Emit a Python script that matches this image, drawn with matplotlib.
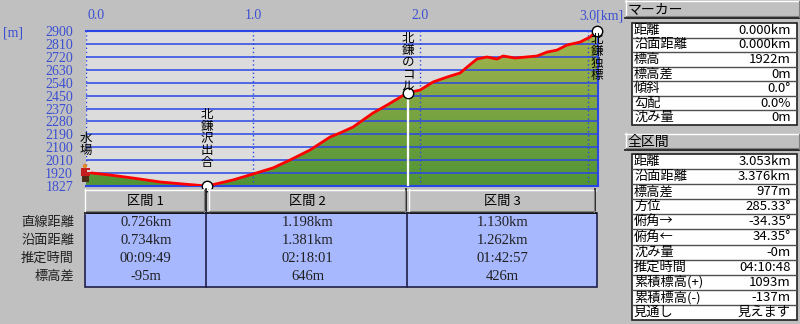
import numpy as np
import matplotlib
matplotlib.use('Agg')
import matplotlib.pyplot as plt
from matplotlib.patches import Rectangle, Circle
from matplotlib.transforms import offset_copy

# elevation profile: horizontal distance [km], elevation [m]
dist_km = [0.000, 0.146, 0.284, 0.445, 0.582, 0.726, 0.881, 1.000, 1.119, 1.221,
           1.340, 1.460, 1.519, 1.597, 1.716, 1.800, 1.924, 1.997, 2.075, 2.158,
           2.236, 2.278, 2.337, 2.397, 2.457, 2.493, 2.564, 2.696, 2.755, 2.815,
           2.875, 2.952, 3.012, 3.053]
elev_m = [1922, 1903, 1882, 1855, 1841, 1827, 1869, 1910, 1952, 2007,
          2076, 2166, 2194, 2235, 2332, 2387, 2473, 2491, 2547, 2581,
          2609, 2650, 2706, 2720, 2706, 2727, 2713, 2727, 2754, 2768,
          2803, 2823, 2858, 2899]

way_km = [0.0, 0.726, 1.924, 3.053]
way_elev = [1922, 1827, 2473, 2899]
way_names = ['水場', '北鎌沢出合', '北鎌のコル', '北鎌独標']

y_tick_labels = ['1827', '1920', '2010', '2100', '2190', '2280', '2370',
                 '2450', '2540', '2630', '2720', '2810', '2900']
x_tick_km = [0, 1, 2, 3]
x_tick_labels = ['0.0', '1.0', '2.0', '3.0[km]']

seg_names = ['区間 1', '区間 2', '区間 3']
row_labels = ['直線距離', '沿面距離', '推定時間', '標高差']
seg_horiz = ['0.726km', '1.198km', '1.130km']
seg_surface = ['0.734km', '1.381km', '1.262km']
seg_time = ['00:09:49', '02:18:01', '01:42:57']
seg_diff = ['-95m', '646m', '426m']

marker_labels = ['距離', '沿面距離', '標高', '標高差', '傾斜', '勾配', '沈み量']
marker_values = ['0.000km', '0.000km', '1922m', '0m', '0.0°', '0.0%', '0m']
total_labels = ['距離', '沿面距離', '標高差', '方位', '俯角→', '俯角←', '沈み量',
                '推定時間', '累積標高(+)', '累積標高(-)', '見通し']
total_values = ['3.053km', '3.376km', '977m', '285.33°', '-34.35°', '34.35°', '-0m',
                '04:10:48', '1093m', '-137m', '見えます']

# ---- layout (pixels of an 800x324 picture) ----
W, H = 800, 324
X0, X1, YT, YB = 85.5, 598, 31, 186
KM_PX = 167.5
BLUE_TXT = '#3b4fd2'
BLUE_GRID = '#2a46e6'
JP = ['Noto Sans CJK JP', 'DejaVu Sans']
SERIF = ['Liberation Serif', 'Noto Sans CJK JP']

fig = plt.figure(figsize=(W / 100, H / 100), dpi=100, facecolor='#c0c0c0')
ax = fig.add_axes([X0 / W, (H - YB) / H, (X1 - X0) / W, (YB - YT) / H])
xmax = (X1 - X0) / KM_PX
ymin, ymax = 1827, 2900
ax.set_xlim(0, xmax)
ax.set_ylim(ymin, ymax)
ax.set_facecolor('#dcdcdc')

# terrain: vertical green gradient clipped to the profile
poly = ax.fill_between(dist_km + [xmax], elev_m + [elev_m[-1]], ymin,
                       facecolor='none', linewidth=0)
grad = np.linspace(0, 1, 256)[:, None]
c_lo = np.array([0x50, 0x94, 0x36]) / 255
c_hi = np.array([0xa8, 0xb6, 0x4e]) / 255
img = c_lo[None, None, :] * (1 - grad[..., None]) + c_hi[None, None, :] * grad[..., None]
im = ax.imshow(img, extent=[0, xmax, ymin, ymax], origin='lower', aspect='auto',
               zorder=1)
im.set_clip_path(poly.get_paths()[0], ax.transData)

# grid
y_pos = np.linspace(ymin, ymax, len(y_tick_labels))
for yv in y_pos:
    ax.axhline(yv, color=BLUE_GRID, lw=1.1, zorder=2)
for xv in x_tick_km:
    ax.axvline(xv, color=BLUE_GRID, lw=1.0, ls=(0, (1, 2)), zorder=2)

for s in ['top', 'bottom', 'right']:
    ax.spines[s].set_color(BLUE_GRID)
    ax.spines[s].set_linewidth(1.5)
ax.spines['left'].set_visible(False)

ax.set_yticks(y_pos, y_tick_labels)
ax.tick_params(axis='y', length=0, pad=9, labelcolor=BLUE_TXT, labelsize=10)
for t in ax.get_yticklabels():
    t.set_family(SERIF)
ax.set_xticks([])

# km labels on top
for km, lbl in zip(x_tick_km, x_tick_labels):
    if km == 0:
        dx, ha = 2.5, 'left'
    elif lbl.endswith('[km]'):
        dx, ha = -8.5, 'left'
    else:
        dx, ha = 0, 'center'
    tr = offset_copy(ax.get_xaxis_transform(), fig=fig, x=dx, y=9, units='dots')
    ax.text(km, 1.0, lbl, transform=tr, ha=ha, va='bottom', color=BLUE_TXT,
            fontsize=10, family=SERIF)

# white drop line at the col, profile, waypoints
ax.plot([way_km[2], way_km[2]], [ymin, way_elev[2]], color='white', lw=1.6, zorder=3)
ax.plot(dist_km, elev_m, color='#ff0000', lw=2.0, zorder=4, solid_capstyle='butt')
ax.plot(way_km[1:], way_elev[1:], 'o', ms=7.5, mfc='white', mec='black', mew=1.0,
        zorder=5, clip_on=False)

# vertical place names: top of the column relative to the marker, in px (up = +)
name_top = [40, 78, 61, -2]
for km, ev, name, top in zip(way_km, way_elev, way_names, name_top):
    tr = offset_copy(ax.transData, fig=fig, x=0, y=top, units='dots')
    ax.text(km, ev, '\n'.join(name), transform=tr, ha='center', va='top',
            multialignment='center', linespacing=0.9, fontsize=9, family=JP,
            color='black', zorder=6, clip_on=False)

# ---- overlay in pixel coordinates ----
ov = fig.add_axes([0, 0, 1, 1])
ov.set_xlim(0, W)
ov.set_ylim(H, 0)
ov.axis('off')
ov.patch.set_alpha(0)
ov.set_zorder(3)

ov.text(3, 33, '[m]', color=BLUE_TXT, fontsize=10, family=SERIF, ha='left', va='center')

# hiker icon at the start
ov.add_patch(Rectangle((82, 175), 7, 7, color='#4a2c18', lw=0))
ov.add_patch(Rectangle((81, 168), 9, 7.5, color='#c41e1e', lw=0))
ov.add_patch(Circle((85, 166), 2.2, color='#e2862e', lw=0))
ov.add_patch(Rectangle((87, 170), 4, 2, color='#d8d8d8', lw=0))


def button(x0, y0, x1, y1):
    ov.add_patch(Rectangle((x0, y0), x1 - x0, y1 - y0, facecolor='#c0c0c0', lw=0))
    ov.plot([x0, x1], [y0 + 0.5, y0 + 0.5], color='white', lw=1)
    ov.plot([x0 + 0.5, x0 + 0.5], [y0, y1], color='white', lw=1)
    ov.plot([x0, x1], [y1 - 0.5, y1 - 0.5], color='#101010', lw=1.2)
    ov.plot([x1 - 0.5, x1 - 0.5], [y0, y1], color='#101010', lw=1.2)
    ov.plot([x0 + 1, x1 - 1], [y1 - 1.8, y1 - 1.8], color='#808080', lw=0.8)
    ov.plot([x1 - 1.8, x1 - 1.8], [y0 + 1, y1 - 1], color='#808080', lw=0.8)


# section table
bounds = [X0 + k * KM_PX for k in way_km]
bounds[0] = 84.5
ov.add_patch(Rectangle((84.5, 213), bounds[-1] - 84.5, 287 - 213,
                       facecolor='#a8b8ff', edgecolor='#20204a', lw=1.2))
row_y = [222.5, 240.5, 258.5, 276.5]
cols = [seg_horiz, seg_surface, seg_time, seg_diff]
for i in range(3):
    xa, xb = bounds[i], bounds[i + 1]
    button(xa + (0 if i == 0 else 1), 189, xb - 1, 213)
    ov.text((xa + xb) / 2, 201, seg_names[i], ha='center', va='center',
            fontsize=9.5, family=JP, color='black')
    if i > 0:
        ov.plot([xa - 1, xa - 1], [213, 287], color='#20204a', lw=1.2)
    for r, vals in enumerate(cols):
        ov.text((xa + xb) / 2, row_y[r], vals[i], ha='center', va='center',
                fontsize=10.5, family=SERIF, color='#202020')
for r, lbl in enumerate(row_labels):
    ov.text(74, row_y[r], lbl, ha='right', va='center', fontsize=9.5, family=JP,
            color='#202020')


# right-hand panels
def info_box(title, ty0, ty1, by0, by1, labels, values):
    button(625, ty0, 801, ty1)
    ov.text(628, (ty0 + ty1) / 2, title, ha='left', va='center', fontsize=10,
            family=JP, color='black')
    n = len(labels)
    h = (by1 - by0) / n
    ov.add_patch(Rectangle((632, by0), 797 - 632, by1 - by0, facecolor='white',
                           edgecolor='#202020', lw=1.2))
    for k in range(n):
        yc = by0 + h * (k + 0.5)
        if k > 0:
            ov.plot([632, 797], [by0 + h * k, by0 + h * k], color='#505050', lw=1)
        ov.text(634, yc, labels[k], ha='left', va='center', fontsize=9.5,
                family=JP, color='black')
        ov.text(791, yc, values[k], ha='right', va='center', fontsize=9.5,
                family=JP, color='black')


info_box('マーカー', 0, 18, 23, 125, marker_labels, marker_values)
info_box('全区間', 133, 150, 154, 320, total_labels, total_values)

fig.savefig('out.png', dpi=100, facecolor=fig.get_facecolor())
